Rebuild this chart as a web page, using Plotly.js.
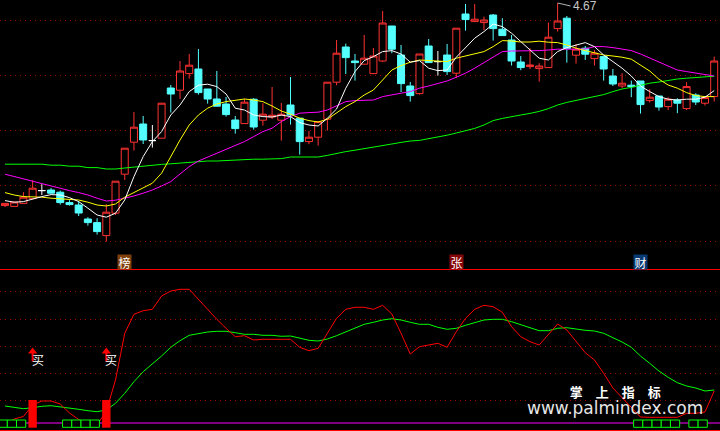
<!DOCTYPE html>
<html><head><meta charset="utf-8">
<script src="https://cdn.plot.ly/plotly-3.0.1.min.js"></script>
<style>html,body{margin:0;padding:0;background:#000;}#chart{width:720px;height:431px;}</style>
</head><body><div id="chart"></div>
<script>
// ---- price data (one entry per trading day) ----
const openP = [3.657,3.653,3.668,3.692,3.732,3.735,3.724,3.672,3.660,3.590,
3.572,3.507,3.619,3.814,3.974,4.065,3.982,3.994,4.245,4.234,
4.317,4.340,4.240,4.190,4.165,4.085,4.067,4.189,4.084,4.100,
4.084,4.160,4.094,3.977,3.999,4.089,4.274,4.450,4.380,4.364,
4.317,4.380,4.555,4.410,4.255,4.217,4.455,4.377,4.410,4.319,
4.615,4.577,4.572,4.610,4.539,4.485,4.375,4.352,4.342,4.347,
4.542,4.594,4.409,4.444,4.392,4.402,4.305,4.255,4.259,4.280,
4.182,4.205,4.152,4.185,4.142,4.210,4.169,4.202];
const highP = [3.668,3.675,3.724,3.784,3.764,3.745,3.732,3.684,3.679,3.599,
3.594,3.665,3.779,3.944,4.125,4.105,4.060,4.169,4.260,4.380,
4.415,4.440,4.240,4.330,4.200,4.105,4.192,4.194,4.169,4.250,
4.170,4.300,4.094,4.030,4.077,4.274,4.485,4.467,4.415,4.510,
4.445,4.630,4.555,4.460,4.275,4.415,4.490,4.430,4.465,4.544,
4.665,4.665,4.602,4.615,4.594,4.510,4.405,4.444,4.369,4.572,
4.670,4.605,4.465,4.455,4.435,4.402,4.340,4.319,4.282,4.280,
4.239,4.205,4.199,4.194,4.274,4.219,4.197,4.402];
const lowP = [3.650,3.653,3.668,3.689,3.710,3.719,3.662,3.657,3.605,3.557,
3.512,3.477,3.610,3.785,3.932,3.965,3.947,3.994,4.122,4.190,
4.292,4.212,4.167,4.154,4.102,4.017,4.067,4.037,4.057,4.090,
3.982,4.062,3.912,3.964,3.957,4.032,4.259,4.315,4.282,4.364,
4.317,4.375,4.419,4.225,4.177,4.212,4.372,4.307,4.310,4.294,
4.532,4.577,4.535,4.482,4.507,4.357,4.334,4.340,4.277,4.347,
4.527,4.372,4.367,4.385,4.357,4.282,4.255,4.244,4.199,4.117,
4.172,4.132,4.135,4.119,4.135,4.160,4.157,4.177];
const closeP = [3.668,3.675,3.699,3.744,3.732,3.719,3.672,3.662,3.620,3.572,
3.527,3.624,3.779,3.944,4.049,3.985,3.982,4.169,4.215,4.330,
4.359,4.222,4.190,4.154,4.112,4.042,4.174,4.050,4.114,4.109,
4.114,4.110,3.977,3.999,4.077,4.274,4.419,4.397,4.372,4.394,
4.405,4.570,4.439,4.267,4.207,4.415,4.372,4.377,4.327,4.544,
4.587,4.589,4.585,4.542,4.507,4.380,4.347,4.360,4.355,4.499,
4.580,4.442,4.439,4.414,4.419,4.340,4.265,4.269,4.252,4.162,
4.199,4.150,4.189,4.169,4.252,4.175,4.197,4.380];

// ---- moving averages ----
const ma5 = [3.682,3.674,3.677,3.690,3.702,3.712,3.710,3.697,3.677,3.644,
3.610,3.599,3.619,3.685,3.802,3.902,3.977,4.027,4.110,4.160,
4.227,4.259,4.264,4.252,4.215,4.144,4.135,4.110,4.102,4.100,
4.110,4.102,4.072,4.060,4.055,4.094,4.140,4.244,4.327,4.382,
4.402,4.427,4.432,4.415,4.374,4.382,4.344,4.332,4.335,4.399,
4.444,4.494,4.527,4.565,4.552,4.519,4.477,4.435,4.394,4.385,
4.427,4.447,4.460,4.472,4.452,4.410,4.377,4.344,4.305,4.255,
4.227,4.202,4.189,4.185,4.189,4.189,4.199,4.232];
const ma10 = [3.722,3.710,3.702,3.702,3.699,3.694,3.690,3.689,3.685,3.674,
3.660,3.655,3.665,3.699,3.722,3.744,3.769,3.819,3.902,3.985,
4.060,4.110,4.144,4.165,4.177,4.185,4.190,4.185,4.177,4.155,
4.130,4.114,4.094,4.082,4.075,4.089,4.119,4.152,4.177,4.210,
4.235,4.285,4.335,4.357,4.374,4.385,4.382,4.377,4.377,4.394,
4.405,4.415,4.427,4.452,4.482,4.480,4.475,4.475,4.479,4.474,
4.472,4.460,4.444,4.432,4.422,4.410,4.405,4.399,4.389,4.360,
4.330,4.289,4.260,4.244,4.222,4.207,4.202,4.202];
const ma20 = [3.814,3.802,3.789,3.777,3.765,3.755,3.744,3.732,3.722,3.710,
3.694,3.680,3.684,3.694,3.705,3.719,3.735,3.755,3.777,3.815,
3.852,3.880,3.899,3.919,3.939,3.960,3.977,4.002,4.027,4.044,
4.077,4.102,4.119,4.122,4.124,4.135,4.155,4.177,4.182,4.185,
4.185,4.202,4.212,4.219,4.227,4.244,4.255,4.269,4.280,4.299,
4.319,4.344,4.372,4.399,4.427,4.430,4.430,4.430,4.432,4.435,
4.439,4.439,4.439,4.440,4.452,4.452,4.447,4.440,4.432,4.415,
4.394,4.375,4.355,4.335,4.327,4.319,4.310,4.305];
const ma60 = [3.864,3.864,3.864,3.864,3.864,3.859,3.859,3.854,3.854,3.847,
3.847,3.840,3.840,3.845,3.850,3.855,3.858,3.863,3.866,3.869,
3.874,3.878,3.880,3.880,3.883,3.884,3.889,3.889,3.889,3.892,
3.892,3.900,3.900,3.900,3.900,3.908,3.918,3.927,3.934,3.941,
3.949,3.958,3.965,3.973,3.980,3.983,3.991,3.999,4.009,4.020,
4.032,4.043,4.060,4.082,4.093,4.103,4.110,4.118,4.128,4.142,
4.160,4.173,4.183,4.195,4.205,4.212,4.227,4.240,4.248,4.260,
4.269,4.275,4.284,4.290,4.294,4.297,4.300,4.304];

// ---- lower indicator ----
const oscRed = [-3,4,6.5,18,22,22,19,10,3.5,-1,
-2,12,43,89.7,108.7,112.3,113.7,127,132,133.7,
133.7,123.7,113,103.7,94.7,86.3,87.3,83,83.7,83.7,
83.7,83.7,75.7,72.3,74.7,90.3,104.7,113.7,115.7,115.7,
113.7,117.7,109,89.7,69,76.3,78,79.7,75.7,91.3,
104.7,113.7,117.7,116.3,110.7,96.3,86.3,81.3,78,88,
99,93,81.3,70.3,63,49.7,35,25,15,6,
5.7,5.7,5.7,5.7,9.7,9.7,11,32];
const oscGreen = [17,15.3,14.3,15.3,16.7,17.3,16.3,15,13.7,12.3,
11.3,13,19.7,29.7,41.3,51.3,58.7,67,75.7,82.3,
87.7,89.7,91,91.7,91.7,90.3,88.7,88.7,87.7,87.7,
86.7,87,84.7,82.7,82,84,87.3,91.3,95.3,98.7,
100.7,103,104.3,103,100.7,98.7,98.7,95.7,93.7,94.7,
97.7,100.7,103,103.7,103.7,101.3,98.3,95.7,92.3,92.3,
94.7,95.3,93.7,92.7,92,89.7,85.3,81,75.7,67,
59.7,52,45.7,40.3,37,35,32,33];

// signals
const buyIdx = [3, 11];
const buyTop = [23, 23];
const buyBase = [-4.7, -4.7];
const buyText = ['买', '买'];
const boxIdx = [0,1,2,7,8,9,10,69,70,71,72,73,75,76];
const boxTop = boxIdx.map(() => 3);
const boxBase = boxIdx.map(() => -4.3);
const tagIdx = [13, 49, 69];
const tagText = ['榜', '张', '财'];
const tagColor = ['#7e3f0c', '#850606', '#073a72'];
const upperGrid = [4.5815, 4.306, 4.031, 3.756, 3.48];
const lowerGrid = [131.3, 103.7, 76.3, 49.7, 22.3];
const watermarkChars = ['掌', '上', '指', '标'];
const watermarkUrl = 'www.palmindex.com';

const N = openP.length;
const idx = Array.from({length: N}, (_, i) => i);
const isDoji = idx.map(i => openP[i] === closeP[i]);
const mainI = idx.filter(i => !isDoji[i]);
const dojiI = idx.filter(i => isDoji[i]);
const sel = (arr, ii) => ii.map(i => arr[i]);

const UP = '#ff3232', DOWN = '#54ffff';
const traces = [];
traces.push({type:'candlestick', x: mainI, open: sel(openP, mainI), high: sel(highP, mainI),
  low: sel(lowP, mainI), close: sel(closeP, mainI), xaxis:'x', yaxis:'y', whiskerwidth:0,
  increasing:{line:{color:UP, width:1}, fillcolor:'#000000'},
  decreasing:{line:{color:DOWN, width:1}, fillcolor:DOWN}, hoverinfo:'skip'});
traces.push({type:'candlestick', x: dojiI, open: sel(openP, dojiI), high: sel(highP, dojiI),
  low: sel(lowP, dojiI), close: sel(closeP, dojiI), xaxis:'x', yaxis:'y', whiskerwidth:0,
  increasing:{line:{color:'#ffffff', width:1}, fillcolor:'#ffffff'},
  decreasing:{line:{color:'#ffffff', width:1}, fillcolor:'#ffffff'}, hoverinfo:'skip'});
[[ma60,'#00ff00'],[ma20,'#ff00ff'],[ma10,'#ffff00'],[ma5,'#ffffff']].forEach(([arr,c]) => {
  traces.push({type:'scatter', mode:'lines', x: idx, y: arr, xaxis:'x', yaxis:'y',
    line:{color:c, width:1}, hoverinfo:'skip'});
});
traces.push({type:'scatter', mode:'lines', x: idx, y: oscGreen, xaxis:'x', yaxis:'y2',
  line:{color:'#00ff00', width:1}, hoverinfo:'skip'});
traces.push({type:'scatter', mode:'lines', x: idx, y: oscRed, xaxis:'x', yaxis:'y2',
  line:{color:'#ff0000', width:1}, hoverinfo:'skip'});
// overlay layer (drawn above the indicator lines)
traces.push({type:'bar', x: boxIdx, y: boxTop.map((t,k) => t - boxBase[k]), base: boxBase,
  width: 1, offset: -0.75, xaxis:'x', yaxis:'y3',
  marker:{color:'#000000', line:{color:'#00ff00', width:1}}, hoverinfo:'skip'});
traces.push({type:'bar', x: buyIdx, y: buyTop.map((t,k) => t - buyBase[k]), base: buyBase,
  width: 0.91, xaxis:'x', yaxis:'y3', marker:{color:'#ff0000', line:{width:0}}, hoverinfo:'skip'});
traces.push({type:'scatter', mode:'markers', x: buyIdx, y: buyIdx.map(() => 66.5), xaxis:'x', yaxis:'y3',
  marker:{symbol:'line-ns', size:7, line:{color:'#ff0000', width:2}}, hoverinfo:'skip'});
traces.push({type:'scatter', mode:'markers', x: buyIdx, y: buyIdx.map(() => 71.5), xaxis:'x', yaxis:'y3',
  marker:{symbol:'triangle-up', size:8, color:'#ff0000'}, hoverinfo:'skip'});

const gridAxis = {showticklabels:false, ticks:'', showgrid:true, gridcolor:'#a00000',
  griddash:'1px,4px', gridwidth:1, zeroline:false, showline:false, fixedrange:true};

// peak label
let peakI = 0; highP.forEach((h,i) => { if (h > highP[peakI]) peakI = i; });

const annotations = [];
annotations.push({x: peakI, y: highP[peakI], xref:'x', yref:'y', text: highP[peakI].toFixed(2),
  showarrow:true, arrowhead:0, arrowwidth:1, arrowcolor:'#b4b4b4', ax:13, ay:3,
  xanchor:'left', yanchor:'middle', font:{color:'#c8c8c8', size:12, family:'Liberation Sans, Arial'}});
tagIdx.forEach((xi,k) => annotations.push({x: xi, xref:'x', y: 1 - 261.5/431, yref:'paper',
  xanchor:'center', yanchor:'middle',
  text: tagText[k], showarrow:false, bgcolor: tagColor[k], width:13, height:14, borderpad:0,
  font:{color:'#ffffff', size:12, family:'Noto Sans CJK SC'}}));
buyIdx.forEach((xi,k) => annotations.push({x: xi, xref:'x', y: 64, yref:'y2', xshift:5,
  xanchor:'center', yanchor:'middle',
  text: buyText[k], showarrow:false, font:{color:'#ffffff', size:12, family:'Noto Sans CJK SC'}}));
// watermark: two lines in one text block
annotations.push({x: 615/720, xref:'paper', y: 1 - 400/431, yref:'paper',
  xanchor:'center', yanchor:'middle', borderpad:0, align:'center', showarrow:false,
  text: '<b>' + watermarkChars.join('\u3000') + '</b><br>' +
        '<span style="font-size:17px;font-family:DejaVu Sans;color:#e6e6e6">' + watermarkUrl + '</span>',
  font:{color:'#ffffff', size:13, family:'Noto Sans CJK SC'}});

const layout = {
  width:720, height:431, margin:{l:0, r:0, t:0, b:0, pad:0},
  paper_bgcolor:'#000000', plot_bgcolor:'#000000', showlegend:false,
  boxgap:0.05, boxgroupgap:0.2, barmode:'overlay',
  xaxis:{range:[-0.543, 77.63], visible:false, rangeslider:{visible:false}, fixedrange:true},
  yaxis:Object.assign({domain:[1 - 268/431, 1], range:[3.345, 4.685], tickvals: upperGrid}, gridAxis),
  yaxis2:Object.assign({domain:[0, 161/431], range:[-8, 153], tickvals: lowerGrid}, gridAxis),
  yaxis3:{overlaying:'y2', range:[-8, 153], visible:false, fixedrange:true},
  shapes:[
    {type:'line', xref:'x', yref:'y2', x0:-1, x1:80, y0:0, y1:0, layer:'below',
      line:{color:'#ff00ff', width:1}},
    {type:'line', xref:'paper', yref:'paper', x0:0, x1:1, y0:1 - 269.5/431, y1:1 - 269.5/431,
      line:{color:'#ff0000', width:1}},
    {type:'line', xref:'paper', yref:'paper', x0:0, x1:1, y0:1 - 430.5/431, y1:1 - 430.5/431,
      line:{color:'#ff0000', width:1}}
  ],
  annotations: annotations
};
Plotly.newPlot('chart', traces, layout, {staticPlot:true, displayModeBar:false});
</script>
</body></html>
